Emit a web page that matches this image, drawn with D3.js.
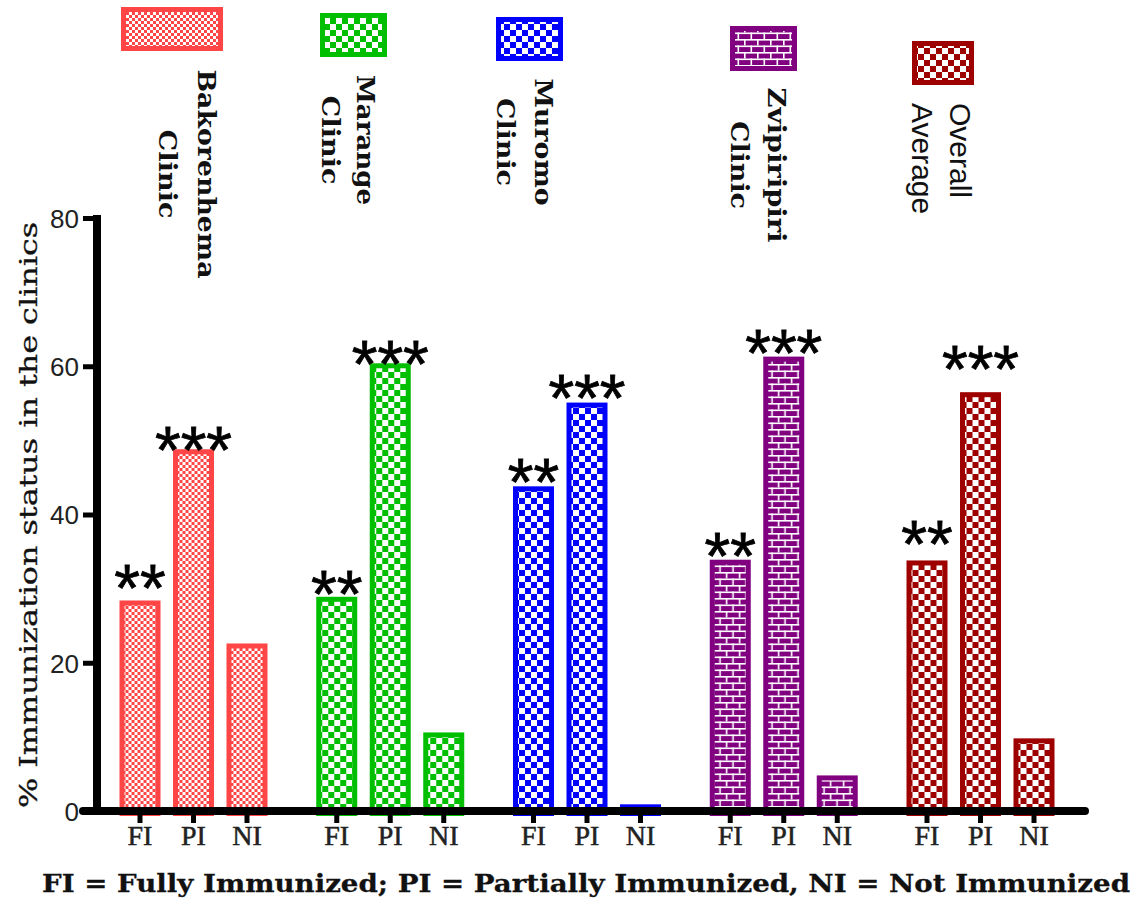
<!DOCTYPE html>
<html>
<head>
<meta charset="utf-8">
<script src="https://cdn.jsdelivr.net/npm/d3@7"></script>
<style>
  html, body { margin: 0; padding: 0; background: #fff; }
  svg { display: block; }
</style>
</head>
<body>
<div id="chart"></div>
<script>
// ---------------- DATA ----------------
const clinics = ["Bakorenhema Clinic", "Marange Clinic", "Muromo Clinic", "Zvipiripiri Clinic", "Overall Average"];
const statuses = ["FI", "PI", "NI"];
const fullyImmunized = [28.4, 28.9, 43.8, 33.9, 33.8];
const partiallyImmunized = [48.8, 60.4, 55.1, 61.3, 56.5];
const notImmunized = [22.6, 10.6, 0.9, 4.8, 9.8];
const significanceFI = ["**", "**", "**", "**", "**"];
const significancePI = ["***", "***", "***", "***", "***"];
// level (in % units) at which each significance marker sits
const markerLevelFI = [30.8, 30.1, 45.1, 35.2, 36.8];
const markerLevelPI = [49.4, 61.1, 56.5, 62.6, 60.4];
const yTicks = [0, 20, 40, 60, 80];
const legendLines = [["Bakorenhema", "Clinic"], ["Marange", "Clinic"], ["Muromo", "Clinic"], ["Zvipiripiri", "Clinic"], ["Overall", "Average"]];
const yLabel = "% Immunization status in the clinics";
const footnote = "FI = Fully Immunized; PI = Partially Immunized, NI = Not Immunized";

// ---------------- STYLE / LAYOUT ----------------
const W = 1138, H = 899;
const colors = ["#FF4545", "#00BE00", "#0000FF", "#800080", "#9E0000"];
const patternIds = ["pRed", "pGreen", "pBlue", "pPurple", "pDark"];
const serifLegend = { font: "DejaVu Serif, serif", size: 25, weight: "bold" };
const sansLegend = { font: "Liberation Sans, Arial, sans-serif", size: 30, weight: "normal" };
const legendLayout = [
  { x: 121, y: 7,  w: 102, h: 44, lineX: [198, 159], anchor: "middle", cy: 174, f: serifLegend, len: [209, 89] },
  { x: 320, y: 13, w: 67,  h: 44, lineX: [357, 322], anchor: "middle", cy: 140, f: serifLegend, len: [130, 89] },
  { x: 496, y: 17, w: 67,  h: 44, lineX: [535, 497], anchor: "middle", cy: 142, f: serifLegend, len: [127, 88] },
  { x: 730, y: 26, w: 67,  h: 45, lineX: [768, 731], anchor: "middle", cy: 165, f: serifLegend, len: [155, 88] },
  { x: 912, y: 41, w: 62,  h: 44, lineX: [950, 912], anchor: "start",  cy: 103, f: sansLegend, len: [null, null] }
];

const svg = d3.select("#chart").append("svg").attr("width", W).attr("height", H);
const defs = svg.append("defs");

function checker(id, color, s) {
  const p = defs.append("pattern").attr("id", id).attr("patternUnits", "userSpaceOnUse")
    .attr("width", 2 * s).attr("height", 2 * s);
  p.append("rect").attr("width", 2 * s).attr("height", 2 * s).attr("fill", "#fff");
  p.append("rect").attr("width", s).attr("height", s).attr("fill", color);
  p.append("rect").attr("x", s).attr("y", s).attr("width", s).attr("height", s).attr("fill", color);
}
checker("pRed", colors[0], 3);
checker("pGreen", colors[1], 6);
checker("pBlue", colors[2], 6);
checker("pDark", colors[4], 6);
(function brick() {
  const bw = 26, bh = 13, lw = 1.6;
  const p = defs.append("pattern").attr("id", "pPurple").attr("patternUnits", "userSpaceOnUse")
    .attr("width", bw).attr("height", bh);
  p.append("rect").attr("width", bw).attr("height", bh).attr("fill", colors[3]);
  p.append("rect").attr("x", 0).attr("y", 0).attr("width", bw).attr("height", lw).attr("fill", "#fff");
  p.append("rect").attr("x", 0).attr("y", bh / 2).attr("width", bw).attr("height", lw).attr("fill", "#fff");
  [3, 3 + bw / 2].forEach(vx => p.append("rect").attr("x", vx).attr("y", 0).attr("width", lw).attr("height", bh / 2).attr("fill", "#fff"));
  [3 + bw / 4, 3 + 3 * bw / 4].forEach(vx => p.append("rect").attr("x", vx).attr("y", bh / 2).attr("width", lw).attr("height", bh / 2).attr("fill", "#fff"));
})();

// ---------------- SCALES ----------------
const y = d3.scaleLinear().domain([0, 80]).range([811, 218]);
const x0 = d3.scaleBand().domain(clinics).range([119.5, 1054.5]).paddingInner(0.2478).paddingOuter(0);
const x1 = d3.scaleBand().domain(statuses).range([0, x0.bandwidth()]).paddingInner(0.2336).paddingOuter(0);

const rows = clinics.map((c, i) => ({
  clinic: c, i,
  values: [
    { key: "FI", v: fullyImmunized[i], mark: significanceFI[i], level: markerLevelFI[i] },
    { key: "PI", v: partiallyImmunized[i], mark: significancePI[i], level: markerLevelPI[i] },
    { key: "NI", v: notImmunized[i], mark: "", level: null }
  ]
}));

// ---------------- BARS ----------------
const sw = 5;
const groups = svg.append("g").selectAll("g").data(rows).join("g")
  .attr("transform", d => `translate(${x0(d.clinic)},0)`);
groups.selectAll("rect").data(d => d.values.map(v => ({ ...v, i: d.i }))).join("rect")
  .attr("x", d => x1(d.key) + sw / 2)
  .attr("width", x1.bandwidth() - sw)
  .attr("y", d => y(d.v) + sw / 2)
  .attr("height", d => Math.max(0, y(0) - y(d.v)))
  .attr("fill", d => `url(#${patternIds[d.i]})`)
  .attr("stroke", d => colors[d.i])
  .attr("stroke-width", sw);

// significance markers
groups.selectAll("text.sig").data(d => d.values.filter(v => v.mark)).join("text")
  .attr("class", "sig")
  .attr("x", d => x1(d.key) + x1.bandwidth() / 2)
  .attr("y", d => y(d.level) + 0.434 * 66)
  .attr("text-anchor", "middle")
  .attr("font-family", "Liberation Sans, Arial, sans-serif")
  .attr("font-size", 66)
  .attr("fill", "#000")
  .attr("stroke", "#000").attr("stroke-width", 0.8)
  .text(d => d.mark);

// ---------------- AXES ----------------
const yAxis = svg.append("g").attr("transform", "translate(97,0)")
  .call(d3.axisLeft(y).tickValues(yTicks).tickSize(14).tickPadding(4).tickFormat(d3.format("d")));
yAxis.select(".domain").remove();
yAxis.selectAll(".tick line").attr("stroke", "#000").attr("stroke-width", 5);
yAxis.selectAll(".tick text")
  .attr("font-family", "Liberation Sans, Arial, sans-serif")
  .attr("font-size", 26).attr("fill", "#222").attr("dy", "0.36em");
svg.append("line").attr("x1", 97).attr("x2", 97).attr("y1", y(80) - 3).attr("y2", y(0) + 4)
  .attr("stroke", "#000").attr("stroke-width", 8);

const xg = svg.append("g");
rows.forEach(r => {
  const g = xg.append("g").attr("transform", `translate(${x0(r.clinic)},${y(0)})`);
  g.call(d3.axisBottom(x1).tickSize(12).tickPadding(4));
  g.select(".domain").remove();
  g.selectAll(".tick line").attr("stroke", "#000").attr("stroke-width", 5);
  g.selectAll(".tick text")
    .attr("font-family", "Liberation Serif, Times New Roman, serif")
    .attr("font-size", 28).attr("fill", "#222")
    .attr("stroke", "#222").attr("stroke-width", 0.5)
    .attr("dy", "0.66em");
});
svg.append("line").attr("x1", 83).attr("x2", 1085).attr("y1", y(0)).attr("y2", y(0))
  .attr("stroke", "#000").attr("stroke-width", 8).attr("stroke-linecap", "round");

svg.append("text")
  .attr("transform", `translate(37,${(222 + 808) / 2}) rotate(-90)`)
  .attr("text-anchor", "middle")
  .attr("font-family", "DejaVu Serif, serif")
  .attr("font-size", 24)
  .attr("fill", "#111")
  .attr("stroke", "#111").attr("stroke-width", 0.3)
  .attr("textLength", 586).attr("lengthAdjust", "spacingAndGlyphs")
  .text(yLabel);

svg.append("text")
  .attr("x", 42).attr("y", 892)
  .attr("font-family", "DejaVu Serif, serif")
  .attr("font-weight", "bold")
  .attr("font-size", 24)
  .attr("fill", "#111")
  .attr("stroke", "#111").attr("stroke-width", 0.3)
  .attr("textLength", 1088).attr("lengthAdjust", "spacingAndGlyphs")
  .text(footnote);

// ---------------- LEGEND ----------------
legendLayout.forEach((L, i) => {
  svg.append("rect")
    .attr("x", L.x + sw / 2).attr("y", L.y + sw / 2)
    .attr("width", L.w - sw).attr("height", L.h - sw)
    .attr("fill", `url(#${patternIds[i]})`)
    .attr("stroke", colors[i]).attr("stroke-width", sw);
  legendLines[i].forEach((line, j) => {
    const t = svg.append("text")
      .attr("transform", `translate(${L.lineX[j]},${L.cy}) rotate(90)`)
      .attr("text-anchor", L.anchor)
      .attr("font-family", L.f.font)
      .attr("font-size", L.f.size)
      .attr("font-weight", L.f.weight)
      .attr("fill", "#111")
      .text(line);
    if (L.len[j]) t.attr("textLength", L.len[j]).attr("lengthAdjust", "spacingAndGlyphs");
  });
});
</script>
</body>
</html>
